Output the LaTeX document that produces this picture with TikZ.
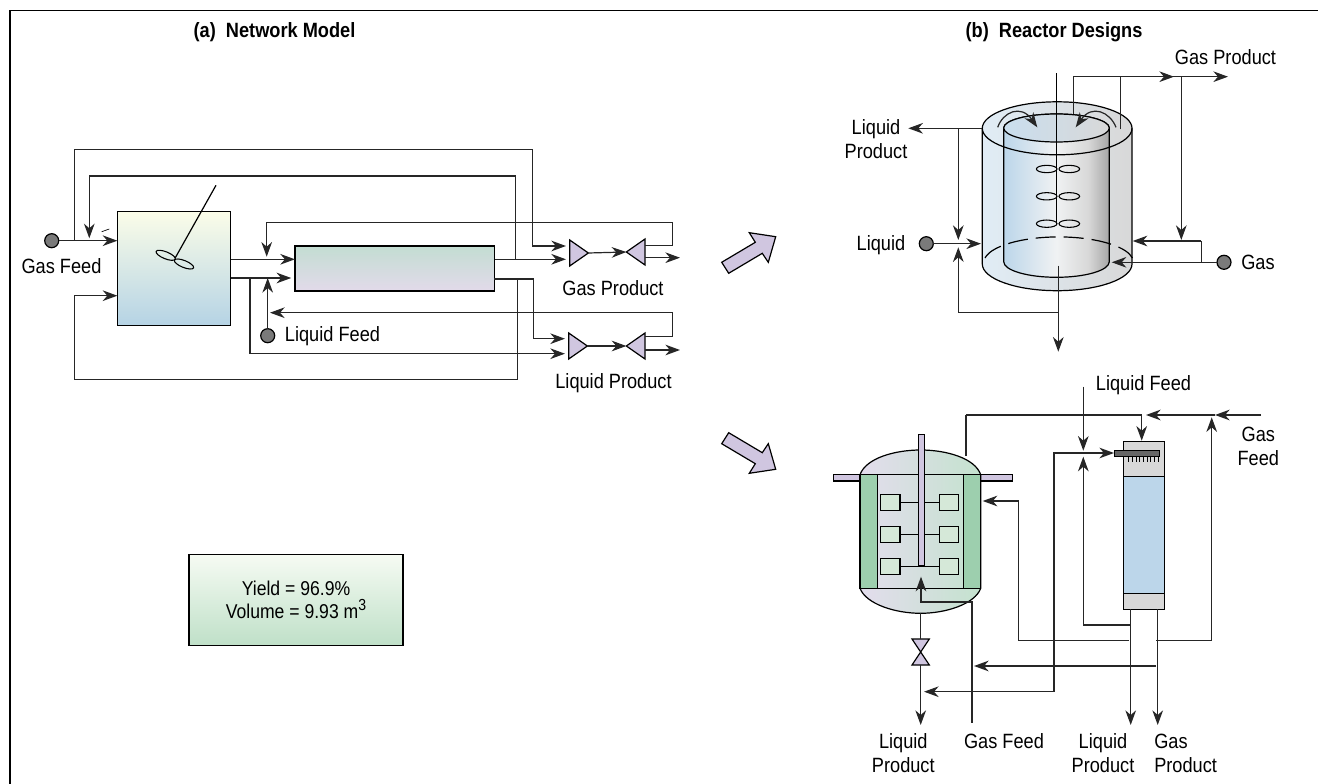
\documentclass[tikz,border=0pt]{standalone}
\usepackage{fontspec}
\setmainfont[FakeStretch=0.88]{Liberation Sans}
\usetikzlibrary{shapes.geometric,arrows.meta}

\definecolor{vlilac}{HTML}{D0C6E0}
\definecolor{vgreen}{HTML}{9DCFAE}
\definecolor{vpale}{HTML}{D5E8D8}
\definecolor{vblue}{HTML}{BCD6EA}
\definecolor{vgrey}{HTML}{D8D8D8}
\definecolor{vdot}{HTML}{7A7A7A}
\definecolor{vwhite}{HTML}{F0F2F3}
\definecolor{vdark}{HTML}{A6A6A6}
\definecolor{vcstra}{HTML}{FBFDE8}
\definecolor{vcstrb}{HTML}{E6ECE8}
\definecolor{vcstrc}{HTML}{B5D3E5}
\definecolor{vcola}{HTML}{C3DDD2}
\definecolor{vcolb}{HTML}{D8DADB}
\definecolor{vcolc}{HTML}{E2DAEA}
\definecolor{vresa}{HTML}{F6FBF3}
\definecolor{vresb}{HTML}{BFE0C8}

\pgfdeclarehorizontalshading{innerwall}{100bp}{color(0bp)=(vblue); color(25bp)=(vblue); color(50bp)=(vwhite);
  color(65bp)=(vgrey); color(75bp)=(vdark); color(100bp)=(vdark)}

\tikzset{
  pipe/.style={draw=black!85, line width=.9pt},
  outline/.style={draw=black, line width=.9pt},
  short/.style={shorten >=2.8pt},
  feed/.style={circle, draw=black, line width=.9pt, fill=vdot, minimum size=10.5pt, inner sep=0pt, outer sep=0pt},
  txt/.style={inner sep=0pt, anchor=base, font=\fontsize{15.5}{18}\selectfont},
  txtb/.style={inner sep=0pt, align=center, font=\fontsize{15.5}{18}\selectfont},
  head/.style={inner sep=0pt, anchor=base, font=\fontsize{15.5}{18}\selectfont\bfseries},
  blade/.style={ellipse, draw=black, line width=.8pt, minimum width=15.5pt, minimum height=5.2pt, inner sep=0pt, outer sep=0pt},
  tri/.style={isosceles triangle, isosceles triangle stretches, draw=black, line width=.9pt, fill=vlilac, anchor=lower side,
              minimum width=19.5pt, minimum height=14pt, inner sep=0pt, outer sep=0pt},
  bigarrow/.style={draw=black, line width=.9pt, fill=vlilac},
  imp/.style={draw=black, line width=.9pt, fill=vpale, minimum width=14.5pt, minimum height=12pt, inner sep=0pt, outer sep=0pt}
}

\begin{document}
\begin{tikzpicture}[x=.75pt, y=-.75pt, >={Stealth[length=11pt,width=8pt,inset=3.5pt]}]
  \useasboundingbox (0,0) rectangle (1318,784);

  % frame
  \draw [line width=1.1pt] (10,784)--(10,10.5)--(1318,10.5);
  \node [head] (heada) at (274.5,37.5) {(a)\ \ Network Model};
  \node [head] (headb) at (1054,37.5) {(b)\ \ Reactor Designs};

  % (a) network model
  \node [draw=black, line width=.9pt, top color=vcstra, middle color=vcstrb, bottom color=vcstrc,
         minimum width=85pt, minimum height=85.8pt, inner sep=0pt, outer sep=0pt] (cstr) at (174,268.5) {};
  \node [draw=black, line width=.9pt, top color=vcola, middle color=vcolb, bottom color=vcolc,
         minimum width=149.5pt, minimum height=33.7pt, inner sep=0pt, outer sep=0pt] (column) at (394.6,268.5) {};
  \node [blade, rotate=-22] (bladea) at (165.7,255.3) {};
  \node [blade, rotate=-22] (bladeb) at (184,264) {};
  \draw [outline] (216,185.3)--(175,258.3);
  \draw [line width=.5pt] (101.7,231.7)--(109.3,229);

  \node [feed] (gasfeed) at (51.7,240.7) {};
  \node [feed] (liqfeed) at (267.7,335.7) {};
  \node [tri] (gasa) at (569.7,253) {};
  \node [tri, shape border rotate=180] (gasb) at (645,252) {};
  \node [tri] (liqa) at (568.7,346) {};
  \node [tri, shape border rotate=180] (liqb) at (645,346) {};

  \node [txt] (lgasfeed) at (61.5,274) {Gas Feed};
  \node [txt] (lliqfeed) at (332.5,342) {Liquid Feed};
  \node [txt] (lgasprod) at (613,295.5) {Gas Product};
  \node [txt] (lliqprod) at (613.5,388.5) {Liquid Product};

  \coordinate (outa) at (495,259.3);
  \coordinate (outb) at (494.3,279);
  \coordinate (inb) at (230.7,278);
  \coordinate (loopa) at (74.3,149.3);
  \coordinate (loopb) at (532.3,246);
  \coordinate (loopc) at (515.7,176);
  \coordinate (loopd) at (89.3,238.3);
  \coordinate (loope) at (74.3,295.7);
  \coordinate (loopf) at (517.7,379.3);
  \coordinate (loopg) at (250,353.7);
  \coordinate (looph) at (533.3,338.7);
  \coordinate (rca) at (645,245.3);
  \coordinate (rcb) at (672.3,222.3);
  \coordinate (rcc) at (266.7,256.7);
  \coordinate (rcd) at (645,336.3);
  \coordinate (rce) at (672.3,312.7);
  \coordinate (rcf) at (270,312.7);
  \coordinate (goa) at (645,257.7);
  \coordinate (gob) at (680,257.7);
  \coordinate (loa) at (645,350);
  \coordinate (lob) at (680,350);

  \draw [pipe,->] (gasfeed)--(cstr.west |- gasfeed);
  \draw [pipe,->,short] (loopa |- gasfeed)--(loopa)-|(loopb)--(gasa.lower side |- loopb);
  \draw [pipe,->] (loopc |- outa)--(loopc)-|(loopd);
  \draw [pipe,->] (cstr.east |- outa)--(column.west |- outa);
  \draw [pipe,->,short] (inb)--(column.west |- inb);
  \draw [pipe,->,short] (outa)--(gasa.lower side |- outa);
  \draw [pipe,->,short] (outb)-|(looph)--(liqa.lower side |- looph);
  \draw [pipe,->] (loopf |- outb)--(loopf)-|(loope)--(cstr.west |- loope);
  \draw [pipe,->,short] (loopg |- inb)--(loopg)--(liqa.lower side |- loopg);
  \draw [pipe,->] (liqfeed)--(liqfeed |- inb);
  \draw [pipe,->] (rca)-|(rcb)-|(rcc);
  \draw [pipe,->] (rcd)-|(rce)--(rcf);
  \draw [pipe,->] (gasa.apex)--(gasb.apex);
  \draw [pipe,->] (liqa.apex)--(liqb.apex);
  \draw [pipe,->] (goa)--(gob);
  \draw [pipe,->] (loa)--(lob);

  % result box
  \node [draw=black, line width=.9pt, top color=vresa, bottom color=vresb, minimum width=160.5pt, minimum height=68.5pt,
         inner sep=0pt, outer sep=0pt] (result) at (296,600) {};
  \node [txtb, font=\fontsize{15}{17.6}\selectfont] (resulttext) at (296,600)
        {Yield = 96.9\%\\Volume = 9.93 m\raisebox{.42em}{\fontsize{12}{12}\selectfont 3}};

  % big arrows
  \draw [bigarrow] (721.7,262.3)--(728.7,273.3)--(762.3,253.3)--(768.3,262.3)--(775.7,236.7)--(749.3,232.7)--(755.3,242.3)--cycle;
  \draw [bigarrow] (721.7,443.7)--(728.7,432.7)--(762.3,452.7)--(768.3,443.7)--(775.7,469.3)--(749.3,473.3)--(755.3,463.7)--cycle;

  % (b) upper reactor, outer shell
  \draw [outline, left color=vblue!45, middle color=white!95!blue, right color=vgrey] (982.3,128.3)--(982.3,264)
        arc[start angle=180, end angle=0, x radius=74.85, y radius=26.7]--(1132,128.3)
        arc[start angle=360, end angle=180, x radius=74.85, y radius=26.5]--cycle;
  % inner shell
  \draw [outline, shade, shading=innerwall] (1003.7,128)--(1003.7,261.7)
        arc[start angle=180, end angle=0, x radius=52.8, y radius=15.6]--(1109.3,128)
        arc[start angle=360, end angle=180, x radius=52.8, y radius=14]--cycle;
  \draw [outline, left color=vblue!80, middle color=vwhite, right color=vgrey] (1056.5,128) ellipse [x radius=52.8, y radius=14];
  \draw [outline] (982.3,128.3) arc[start angle=180, end angle=0, x radius=74.85, y radius=26.5];
  \draw [outline, dash pattern=on 15pt off 6pt] (985,258) arc[start angle=190, end angle=350, x radius=74.85, y radius=25.5];
  \node [blade, minimum height=5.5pt] (proa) at (1046.7,169) {};
  \node [blade, minimum height=5.5pt] (prob) at (1069.3,169) {};
  \node [blade, minimum height=5.5pt] (proc) at (1046.7,196.3) {};
  \node [blade, minimum height=5.5pt] (prod) at (1069.3,196.3) {};
  \node [blade, minimum height=5.5pt] (proe) at (1046.7,223.7) {};
  \node [blade, minimum height=5.5pt] (prof) at (1069.3,223.7) {};
  \draw [outline] (1056.7,73.3)--(1056.7,223.7);

  \node [feed] (liquid) at (926.3,243.7) {};
  \node [feed] (gas) at (1224,262.3) {};
  \node [txt] (lliquid) at (881,250.5) {Liquid};
  \node [txt] (lgas) at (1258,270) {Gas};
  \node [txt] (ltopgas) at (1225.5,65) {Gas Product};
  \node [txtb] (ltopliq) at (876,139) {Liquid\\Product};

  \coordinate (swa) at (1073.7,114);
  \coordinate (swb) at (1120.7,129.3);
  \coordinate (swc) at (1120.7,76.7);
  \coordinate (swd) at (1174,76.7);
  \coordinate (swe) at (1228,76.7);
  \coordinate (swf) at (1181.3,76.7);
  \coordinate (swg) at (1181.3,240);
  \coordinate (swh) at (1201.3,241);
  \coordinate (swi) at (1132.7,241);
  \coordinate (swj) at (1111.7,262.3);
  \coordinate (lpa) at (982.3,128.3);
  \coordinate (lpb) at (908.3,128.3);
  \coordinate (lpc) at (958.3,128.3);
  \coordinate (lpd) at (958.3,240);
  \coordinate (lpe) at (958.3,312.3);
  \coordinate (lpf) at (958.3,247.3);
  \coordinate (lpg) at (1058.3,265.7);
  \coordinate (lph) at (1058.3,351.7);
  \coordinate (lpi) at (981,243.7);

  \draw [pipe,->] (swa)|-(swd);
  \draw [pipe,->] (swc)--(swe);
  \draw [pipe] (swb)--(swc);
  \draw [pipe,->] (swf)--(swg);
  \draw [pipe,->] (swh)--(swi);
  \draw [pipe] (swh)--(swh |- gas);
  \draw [pipe,->] (gas)--(swj);
  \draw [pipe,->] (lpa)--(lpb);
  \draw [pipe,->] (lpc)--(lpd);
  \draw [pipe,->] (lpg |- lpe)-|(lpf);
  \draw [pipe,->] (lpg)--(lph);
  \draw [pipe,->] (liquid)--(lpi);

  % curved arrows at the top of the upper reactor
  \draw [pipe,->] (997.7,127.3) .. controls (1003,112) and (1021,104) .. (1037.3,127.3);
  \draw [pipe,->] (1116,127.3) .. controls (1110,112) and (1092,104) .. (1075.7,127.3);

  % (b) stirred tank
  \node [draw=black, line width=.9pt, fill=vlilac, minimum width=134.3pt, minimum height=4.7pt, inner sep=0pt, outer sep=0pt] (flange) at (923.2,477.8) {};
  \draw [outline, left color=vlilac!60, middle color=vlilac!80!vgreen!70, right color=vgreen!60] (860,474.7)
        .. controls (866,458) and (895,450) .. (920.7,450) .. controls (946,450) and (975,458) .. (980.7,474.7)
        --(980.7,588.3) .. controls (975,604) and (946,613.3) .. (920.7,613.3) .. controls (895,613.3) and (866,604) .. (860,588.3)--cycle;
  \draw [outline] (860,474.7)--(980.7,474.7);
  \draw [outline] (860,588.3)--(980.7,588.3);
  \draw [outline, fill=vgreen] (860,474.7) rectangle (877.3,588.3);
  \draw [outline, fill=vgreen] (963.3,474.7) rectangle (980.7,588.3);
  \node [imp] (impa) at (890.3,502.7) {};
  \node [imp] (impb) at (949,502.7) {};
  \node [imp] (impc) at (890.3,534.7) {};
  \node [imp] (impd) at (949,534.7) {};
  \node [imp] (impe) at (890.3,566.7) {};
  \node [imp] (impf) at (949,566.7) {};
  \draw [outline] (impa)--(impb);
  \draw [outline] (impc)--(impd);
  \draw [outline] (impe)--(impf);
  \draw [outline, fill=vlilac] (918.3,434.3) rectangle (924.7,566);

  % valve
  \coordinate (vala) at (920.7,639);
  \coordinate (valb) at (920.7,665);
  \draw [outline, fill=vlilac] (912,639)--(929.3,639)--(912,665)--(929.3,665)--cycle;

  % (b) sparged column
  \draw [outline, fill=vgrey] (1123.7,441.7) rectangle (1164.7,476.7);
  \draw [outline, fill=vblue] (1123.7,476.7) rectangle (1164.7,593.7);
  \draw [outline, fill=vgrey] (1123.7,593.7) rectangle (1164.7,609.3);
  \foreach \tx in {1128.5,1132.2,1135.9,1139.6,1143.3,1147,1150.7,1154.4,1158.1}
    \draw [line width=.6pt] (\tx,456)--(\tx,462);
  \draw [draw=black, line width=.7pt, fill=black!60] (1114,450.7) rectangle (1159.3,456);

  \node [txtb] (ll1) at (903.3,753) {Liquid\\Product};
  \node [txt] (ll2) at (1004,748) {Gas Feed};
  \node [txtb] (ll3) at (1103,753) {Liquid\\Product};
  \node [txtb, align=left, anchor=west] (ll4) at (1154,753) {Gas\\Product};
  \node [txtb] (ll5) at (1258.3,446) {Gas\\Feed};
  \node [txt] (ll6) at (1143.5,391) {Liquid Feed};

  \coordinate (tga) at (966,456);
  \coordinate (tgb) at (966,415);
  \coordinate (tgc) at (1141.7,440.7);
  \coordinate (tgd) at (1261,415);
  \coordinate (tge) at (1215,415);
  \coordinate (tgf) at (1146,415);
  \coordinate (tgg) at (1156,640.7);
  \coordinate (tgh) at (1211.7,417.3);
  \coordinate (tli) at (1083.3,386.7);
  \coordinate (tlj) at (1083.3,450.7);
  \coordinate (tlk) at (1054,691.7);
  \coordinate (tll) at (1114,453);
  \coordinate (tlm) at (924,691.7);
  \coordinate (tln) at (1083.3,456.7);
  \coordinate (tlo) at (1130.7,625);
  \coordinate (exa) at (1130.7,609.3);
  \coordinate (exb) at (1130.7,725);
  \coordinate (exc) at (1157.7,609.3);
  \coordinate (exd) at (1157.7,725);
  \coordinate (rta) at (1129,640.7);
  \coordinate (rtb) at (1018.3,640.7);
  \coordinate (rtd) at (982.7,501);
  \coordinate (rte) at (1156,666);
  \coordinate (rtf) at (974,666);
  \coordinate (gfa) at (972,722.7);
  \coordinate (gfb) at (972,602);
  \coordinate (gfc) at (921,576.7);
  \coordinate (loa2) at (920.7,613.3);
  \coordinate (lob2) at (920.7,725);

  \draw [pipe] (tga)--(tgb);
  \draw [pipe,->] (tgb)-|(tgc);
  \draw [pipe,->] (tgd)--(tge);
  \draw [pipe,->] (tge)--(tgf);
  \draw [pipe,->] (tgg)-|(tgh);
  \draw [pipe,->] (tli)--(tlj);
  \draw [pipe,<->] (tlm)--(tlk)--(tlk |- tll)--(tll);
  \draw [pipe,->] (tlo)-|(tln);
  \draw [pipe,->] (exa)--(exb);
  \draw [pipe,->] (exc)--(exd);
  \draw [pipe,->] (rta)-|(rtb |- rtd)--(rtd);
  \draw [pipe,->] (rte)--(rtf);
  \draw [pipe,->] (gfa)--(gfb)-|(gfc);
  \draw [pipe] (loa2)--(vala);
  \draw [pipe,->] (valb)--(lob2);
\end{tikzpicture}
\end{document}
